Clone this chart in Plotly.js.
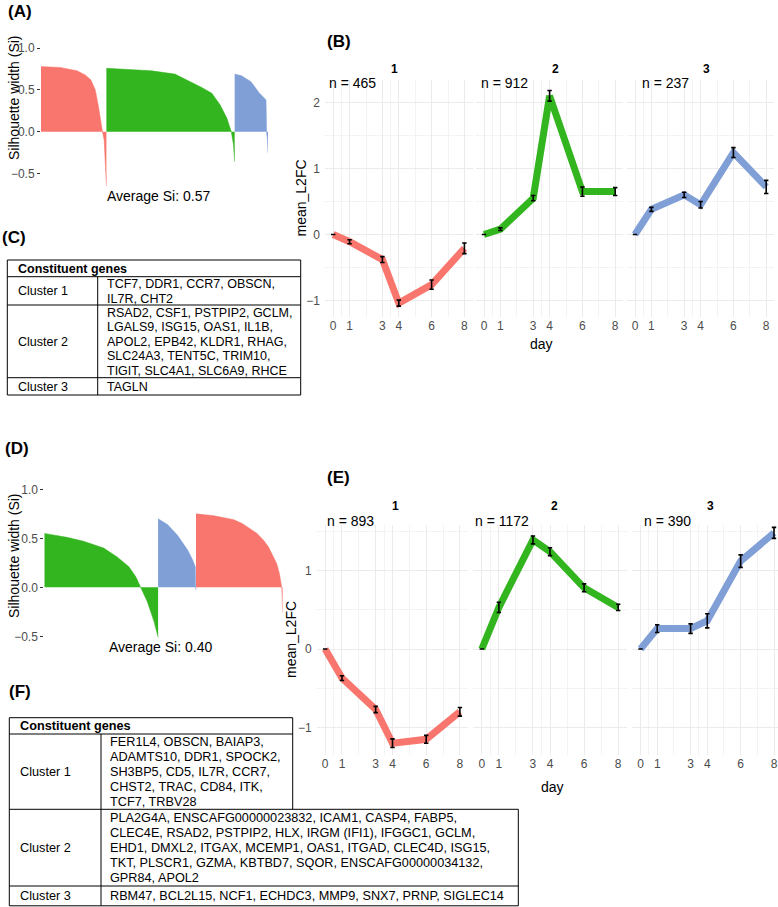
<!DOCTYPE html>
<html><head><meta charset="utf-8">
<script src="https://cdn.plot.ly/plotly-3.0.1.min.js"></script>
<style>html,body{margin:0;padding:0;background:#fff;}#chart{width:778px;height:907px;}</style>
</head><body><div id="chart"></div>
<script>
const W = 778, H = 907;
const FONT = '"Liberation Sans", Arial, Helvetica, sans-serif';
const RED = '#F8766D', GREEN = '#33B51F', BLUE = '#7F9FD6';

// ---------- Panel A: silhouette profile (gene rank, Si) ----------
const A_c1_idx = [0, 137, 256, 315, 355, 386, 409, 428, 437, 449, 460, 465];
const A_c1_si  = [0.78, 0.77, 0.73, 0.68, 0.62, 0.50, 0.30, 0.06, 0.0, -0.10, -0.40, -0.65];
const A_c2_idx = [465, 785, 952, 1036, 1143, 1215, 1274, 1322, 1353, 1368, 1377];
const A_c2_si  = [0.76, 0.73, 0.69, 0.62, 0.53, 0.46, 0.32, 0.16, 0.0, -0.15, -0.36];
const A_c3_idx = [1377, 1426, 1493, 1549, 1589, 1600, 1604, 1610, 1614];
const A_c3_si  = [0.69, 0.67, 0.60, 0.47, 0.40, 0.38, 0.0, -0.10, -0.26];
const A_avg = 'Average Si: 0.57';

// ---------- Panel D: silhouette profile ----------
const D_c2_idx = [0, 232, 404, 612, 750, 871, 941, 992, 1062, 1130, 1172];
const D_c2_si  = [0.55, 0.51, 0.47, 0.40, 0.31, 0.21, 0.11, 0.0, -0.15, -0.35, -0.51];
const D_c3_idx = [1172, 1269, 1372, 1476, 1527, 1555, 1558, 1562];
const D_c3_si  = [0.70, 0.64, 0.53, 0.38, 0.28, 0.21, 0.0, -0.03];
const D_c1_idx = [1562, 1647, 1749, 1851, 1952, 2039, 2122, 2191, 2258, 2309, 2360, 2394, 2421, 2445, 2455];
const D_c1_si  = [0.75, 0.74, 0.73, 0.71, 0.69, 0.65, 0.60, 0.55, 0.48, 0.41, 0.31, 0.24, 0.14, 0.0, -0.26];
const D_avg = 'Average Si: 0.40';

// ---------- Panels B & E: mean_L2FC by day ----------
const days = [0, 1, 3, 4, 6, 8];
const dayMinor = [0.5, 2, 3.5, 5, 7];
const facetLabels = ['1', '2', '3'];

const B_c1 = [0, -0.11, -0.38, -1.04, -0.76, -0.21];
const B_c1_se = [0, 0.03, 0.045, 0.045, 0.07, 0.08];
const B_c2 = [0, 0.08, 0.55, 2.10, 0.65, 0.65];
const B_c2_se = [0, 0.02, 0.04, 0.08, 0.07, 0.06];
const B_c3 = [0, 0.38, 0.60, 0.45, 1.24, 0.72];
const B_c3_se = [0, 0.03, 0.04, 0.05, 0.075, 0.10];
const B_n = [465, 912, 237];

const E_c1 = [0, -0.37, -0.77, -1.20, -1.15, -0.80];
const E_c1_se = [0, 0.03, 0.04, 0.055, 0.05, 0.055];
const E_c2 = [0, 0.53, 1.39, 1.24, 0.78, 0.53];
const E_c2_se = [0, 0.065, 0.05, 0.05, 0.05, 0.04];
const E_c3 = [0, 0.26, 0.26, 0.36, 1.12, 1.48];
const E_c3_se = [0, 0.05, 0.06, 0.09, 0.08, 0.07];
const E_n = [893, 1172, 390];

// ---------- Tables C & F ----------
const tabHeader = 'Constituent genes';
const tabClusters = ['Cluster 1', 'Cluster 2', 'Cluster 3'];
const C_genes = [
  ['TCF7, DDR1, CCR7, OBSCN,', 'IL7R, CHT2'],
  ['RSAD2, CSF1, PSTPIP2, GCLM,', 'LGALS9, ISG15, OAS1, IL1B,', 'APOL2, EPB42, KLDR1, RHAG,', 'SLC24A3, TENT5C, TRIM10,', 'TIGIT, SLC4A1, SLC6A9, RHCE'],
  ['TAGLN']
];
const F_genes = [
  ['FER1L4, OBSCN, BAIAP3,', 'ADAMTS10, DDR1, SPOCK2,', 'SH3BP5, CD5, IL7R, CCR7,', 'CHST2, TRAC, CD84, ITK,', 'TCF7, TRBV28'],
  ['PLA2G4A, ENSCAFG00000023832, ICAM1, CASP4, FABP5,', 'CLEC4E, RSAD2, PSTPIP2, HLX, IRGM (IFI1), IFGGC1, GCLM,', 'EHD1, DMXL2, ITGAX, MCEMP1, OAS1, ITGAD, CLEC4D, ISG15,', 'TKT, PLSCR1, GZMA, KBTBD7, SQOR, ENSCAFG00000034132,', 'GPR84, APOL2'],
  ['RBM47, BCL2L15, NCF1, ECHDC3, MMP9, SNX7, PRNP, SIGLEC14']
];

// ---------- helpers ----------
const px = v => v / W;
const py = v => 1 - v / H;
const traces = [];
const layout = {
  width: W, height: H, margin: {l: 0, r: 0, t: 0, b: 0},
  paper_bgcolor: '#fff', plot_bgcolor: '#fff', showlegend: false,
  font: {family: FONT, color: '#000'},
  annotations: [], shapes: []
};
function ann(text, x, y, o) {
  layout.annotations.push(Object.assign({
    text: text, x: px(x), y: py(y), xref: 'paper', yref: 'paper',
    showarrow: false, xanchor: 'left', yanchor: 'middle',
    font: {family: FONT, size: 14, color: '#000'}
  }, o || {}));
}
function lineShape(x0, y0, x1, y1) {
  layout.shapes.push({type: 'line', xref: 'paper', yref: 'paper',
    x0: px(x0), y0: py(y0), x1: px(x1), y1: py(y1), line: {color: '#000', width: 1}});
}

// ---------- silhouette panels ----------
function silPanel(n, dom, ydom, xr, yr, series) {
  const xk = n === 1 ? 'xaxis' : 'xaxis' + n, yk = n === 1 ? 'yaxis' : 'yaxis' + n;
  const xr_ = n === 1 ? 'x' : 'x' + n, yr_ = n === 1 ? 'y' : 'y' + n;
  layout[xk] = {domain: [px(dom[0]), px(dom[1])], range: xr, visible: false, anchor: yr_, fixedrange: true};
  layout[yk] = {domain: [py(ydom[1]), py(ydom[0])], range: yr, anchor: xr_,
    tickvals: [-0.5, 0, 0.5, 1], tickformat: '.1f', ticks: 'outside', ticklen: 3, tickwidth: 1,
    tickcolor: '#333', tickfont: {family: FONT, size: 12, color: '#4d4d4d'},
    showgrid: false, zeroline: false, showline: false, fixedrange: true};
  series.forEach(s => traces.push({
    type: 'scatter', x: s[0], y: s[1], mode: 'lines', fill: 'tozeroy',
    fillcolor: s[2], line: {color: s[2], width: 0.5}, xaxis: xr_, yaxis: yr_, hoverinfo: 'skip'
  }));
}
silPanel(1, [41, 268], [44.1, 186.7], [0, 1614], [-0.66, 1.05],
  [[A_c1_idx, A_c1_si, RED], [A_c2_idx, A_c2_si, GREEN], [A_c3_idx, A_c3_si, BLUE]]);
silPanel(5, [44.3, 282.7], [484.4, 641.2], [0, 2455], [-0.55, 1.05],
  [[D_c2_idx, D_c2_si, GREEN], [D_c3_idx, D_c3_si, BLUE], [D_c1_idx, D_c1_si, RED]]);

ann('Silhouette width (Si)', 14, 98, {textangle: -90, xanchor: 'center'});
ann(A_avg, 158.5, 196, {xanchor: 'center'});
ann('Silhouette width (Si)', 14, 556, {textangle: -90, xanchor: 'center'});
ann(D_avg, 160.5, 646.7, {xanchor: 'center'});

// ---------- facet line panels ----------
function facetPanels(startN, xdoms, xranges, ydom, yr, ymaj, yminor, data, ns, nPos, nY, stripX, stripY) {
  const cols = [RED, GREEN, BLUE];
  for (let k = 0; k < 3; k++) {
    const n = startN + k;
    const xk = 'xaxis' + n, yk = 'yaxis' + n, xr_ = 'x' + n, yr_ = 'y' + n;
    layout[xk] = {domain: [px(xdoms[k][0]), px(xdoms[k][1])], range: xranges[k], anchor: yr_,
      tickvals: days, ticks: '', showline: false, zeroline: false,
      showgrid: true, gridcolor: '#ebebeb', gridwidth: 1,
      minor: {tickvals: dayMinor, showgrid: true, gridcolor: '#f3f3f3', gridwidth: 1, ticks: ''},
      tickfont: {family: FONT, size: 12, color: '#4d4d4d'}, fixedrange: true};
    layout[yk] = {domain: [py(ydom[1]), py(ydom[0])], range: yr, anchor: xr_,
      tickvals: ymaj, ticks: '', showline: false, zeroline: false,
      showgrid: true, gridcolor: '#ebebeb', gridwidth: 1,
      minor: {tickvals: yminor, showgrid: true, gridcolor: '#f3f3f3', gridwidth: 1, ticks: ''},
      showticklabels: k === 0, ticklabelstandoff: 4,
      tickfont: {family: FONT, size: 12, color: '#4d4d4d'}, fixedrange: true};
    traces.push({type: 'scatter', x: days, y: data[k][0], mode: 'lines',
      line: {color: cols[k], width: 7}, xaxis: xr_, yaxis: yr_, hoverinfo: 'skip'});
    traces.push({type: 'scatter', x: days, y: data[k][0], mode: 'markers',
      marker: {size: 4, color: '#000', opacity: 0},
      error_y: {type: 'data', array: data[k][1], visible: true, color: '#000', thickness: 1.6, width: 2.2},
      xaxis: xr_, yaxis: yr_, hoverinfo: 'skip'});
    ann('n = ' + ns[k], nPos[k], nY);
    ann(facetLabels[k], stripX[k], stripY, {xanchor: 'center', font: {family: FONT, size: 12, color: '#000', weight: 'bold'}});
  }
}
facetPanels(2, [[325, 472.6], [475.8, 623.4], [626.8, 774.4]], [[-0.5, 8.5], [-0.5, 8.5], [-0.5, 8.5]],
  [80, 317], [-1.25, 2.34], [-1, 0, 1, 2], [-0.5, 0.5, 1.5],
  [[B_c1, B_c1_se], [B_c2, B_c2_se], [B_c3, B_c3_se]], B_n,
  [326.5, 479.3, 640], 83.3, [394, 555, 706.7], 68.5);
facetPanels(6, [[316.7, 468.3], [473.3, 626.7], [632.2, 778]], [[-0.5, 8.5], [-0.5, 8.5], [-0.5, 8.24]],
  [525, 755], [-1.35, 1.58], [-1, 0, 1], [-0.5, 0.5, 1.5],
  [[E_c1, E_c1_se], [E_c2, E_c2_se], [E_c3, E_c3_se]], E_n,
  [325.3, 473.3, 642], 521, [395, 554, 710], 505.7);

ann('mean_L2FC', 300, 198.5, {textangle: -90, xanchor: 'center'});
ann('day', 541.7, 344, {xanchor: 'center'});
ann('mean_L2FC', 291, 640, {textangle: -90, xanchor: 'center'});
ann('day', 552.3, 786.7, {xanchor: 'center'});

// ---------- panel letters ----------
const letterFont = {family: FONT, size: 17, color: '#000', weight: 'bold'};
ann('(A)', 6, 11.7, {font: letterFont});
ann('(B)', 324.5, 41, {font: letterFont});
ann('(C)', 0, 237.5, {font: letterFont});
ann('(D)', 3, 448, {font: letterFont});
ann('(E)', 324.5, 477.3, {font: letterFont});
ann('(F)', 6.5, 691.7, {font: letterFont});

// ---------- tables ----------
function drawTable(t) {
  const ys = t.ys; // boundaries: top, header bottom, row bottoms
  const nRows = ys.length - 1;
  for (let j = 0; j < ys.length; j++) {
    const rA = j > 0 ? t.rights[j - 1] : 0;
    const rB = j < nRows ? t.rights[j] : 0;
    lineShape(t.left, ys[j], Math.max(rA, rB), ys[j]);
  }
  lineShape(t.left, ys[0], t.left, ys[nRows]);
  for (let i = 0; i < nRows; i++) lineShape(t.rights[i], ys[i], t.rights[i], ys[i + 1]);
  lineShape(t.div, ys[1], t.div, ys[nRows]);
  const f = {family: FONT, size: t.size, color: '#000'};
  ann(tabHeader, t.c1x, (ys[0] + ys[1]) / 2 + 0.3, {font: Object.assign({}, f, {weight: 'bold'})});
  for (let i = 0; i < tabClusters.length; i++) {
    const mid = (ys[i + 1] + ys[i + 2]) / 2 + 0.5;
    ann(tabClusters[i], t.c1x, mid, {font: f});
    const lines = t.genes[i];
    lines.forEach((ln, m) => {
      ann(ln, t.c2x, mid + (m - (lines.length - 1) / 2) * t.gap, {font: f});
    });
  }
}
drawTable({left: 7.3, div: 97.7, rights: [300.7, 300.7, 300.7, 300.7],
  ys: [260, 276.7, 305, 377.7, 395], size: 12.5, gap: 14.4, c1x: 16, c2x: 104.5, genes: C_genes});
drawTable({left: 9.3, div: 101, rights: [292.7, 292.7, 518.3, 518.3],
  ys: [717.7, 734, 809.3, 886, 905.8], size: 12.7, gap: 15.0, c1x: 18, c2x: 108, genes: F_genes});

Plotly.newPlot('chart', traces, layout, {displayModeBar: false, staticPlot: true});
</script>
</body></html>
